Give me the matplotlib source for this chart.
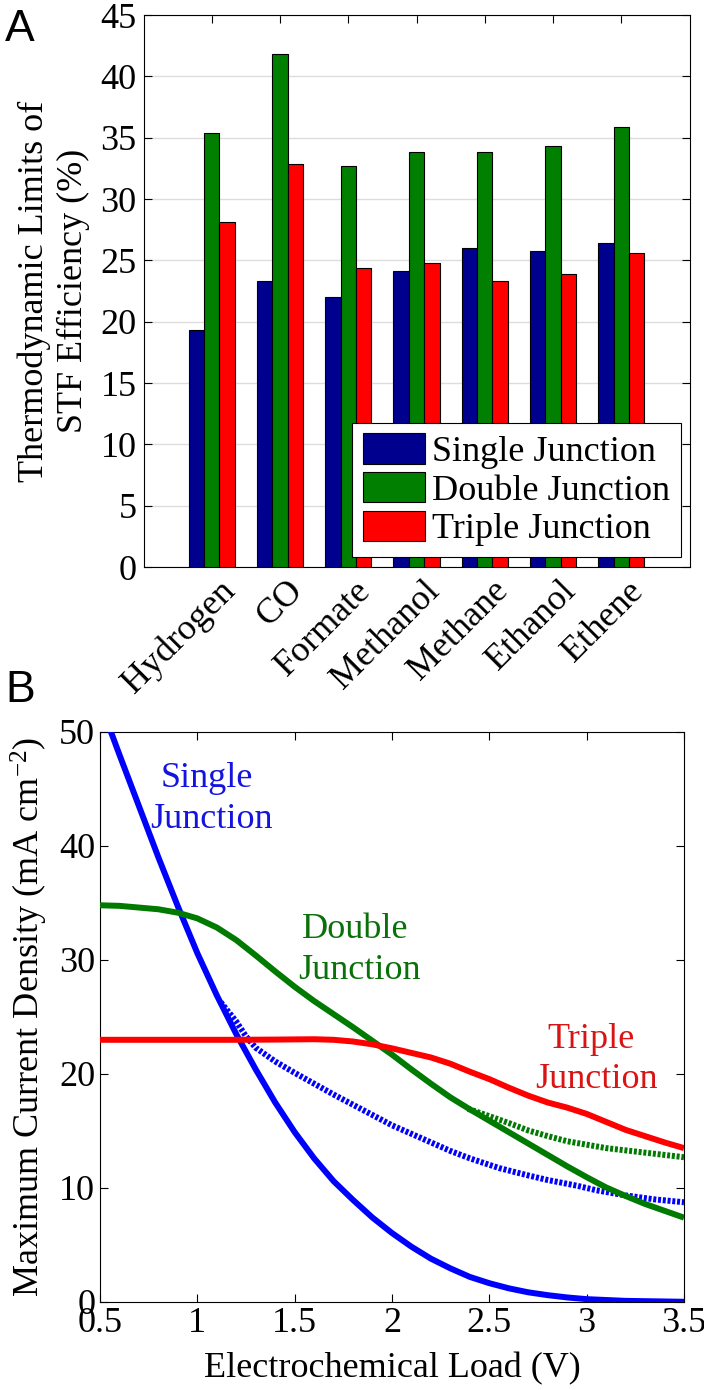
import matplotlib
matplotlib.use("Agg")
import matplotlib.pyplot as plt
import matplotlib.transforms as mtransforms
import numpy as np

plt.rcParams['font.family'] = ['Liberation Serif', 'DejaVu Serif']
plt.rcParams['mathtext.default'] = 'regular'

# ---------------- Panel A data ----------------
products = ["Hydrogen", "CO", "Formate", "Methanol", "Methane", "Ethanol", "Ethene"]
single_eff = [19.3, 23.35, 22.0, 24.15, 26.0, 25.8, 26.45]
double_eff = [35.4, 41.8, 32.7, 33.8, 33.8, 34.35, 35.9]
triple_eff = [28.1, 32.85, 24.4, 24.75, 23.3, 23.9, 25.6]
series_labels = ["Single Junction", "Double Junction", "Triple Junction"]
bar_colors = ["#00008F", "#007F00", "#FF0000"]

# ---------------- Panel B data ----------------
single_x = [0.5, 0.6, 0.7, 0.8, 0.9, 1.0, 1.1, 1.2, 1.3, 1.4, 1.5, 1.6, 1.7, 1.8, 1.9,
            2.0, 2.1, 2.2, 2.3, 2.4, 2.5, 2.6, 2.7, 2.8, 2.9, 3.0, 3.2, 3.5]
single_y = [52.6, 48.0, 43.5, 39.0, 34.7, 30.6, 26.9, 23.5, 20.4, 17.5, 14.9, 12.6, 10.6,
            8.95, 7.4, 6.05, 4.85, 3.8, 2.95, 2.2, 1.65, 1.2, 0.85, 0.6, 0.4, 0.25, 0.1, 0.02]

single_dot_x = [1.12, 1.2, 1.25, 1.3, 1.4, 1.5, 1.6, 1.7, 1.8, 1.9, 2.0, 2.1, 2.2, 2.3,
                2.4, 2.55, 2.7, 2.8, 2.95, 3.05, 3.2, 3.35, 3.5]
single_dot_y = [26.3, 24.6, 23.3, 22.3, 21.1, 20.1, 19.15, 18.2, 17.3, 16.4, 15.5, 14.75,
                14.0, 13.25, 12.6, 11.75, 11.1, 10.7, 10.2, 9.8, 9.35, 9.0, 8.75]

double_x = [0.5, 0.6, 0.7, 0.8, 0.9, 1.0, 1.1, 1.2, 1.3, 1.4, 1.5, 1.6, 1.7, 1.8, 1.9,
            2.0, 2.1, 2.2, 2.3, 2.4, 2.5, 2.6, 2.7, 2.8, 2.9, 3.0, 3.1, 3.2, 3.3, 3.4, 3.5]
double_y = [34.8, 34.75, 34.6, 34.45, 34.15, 33.65, 32.85, 31.75, 30.4, 29.0, 27.65, 26.4,
            25.25, 24.1, 22.9, 21.7, 20.4, 19.15, 17.95, 16.9, 15.9, 14.9, 13.9, 12.9, 11.9,
            10.95, 10.05, 9.3, 8.6, 8.0, 7.4]

double_dot_x = [2.39, 2.5, 2.6, 2.7, 2.8, 2.9, 3.0, 3.1, 3.2, 3.3, 3.4, 3.5]
double_dot_y = [16.95, 16.3, 15.7, 15.05, 14.55, 14.1, 13.8, 13.5, 13.3, 13.1, 12.9, 12.7]

triple_x = [0.5, 0.8, 1.0, 1.2, 1.4, 1.6, 1.7, 1.8, 1.9, 2.0, 2.1, 2.2, 2.3, 2.4, 2.5,
            2.6, 2.7, 2.8, 2.9, 3.0, 3.1, 3.2, 3.3, 3.4, 3.5]
triple_y = [23.0, 23.0, 23.0, 23.0, 23.02, 23.05, 23.0, 22.85, 22.6, 22.25, 21.85, 21.45,
            20.9, 20.2, 19.55, 18.8, 18.1, 17.5, 17.05, 16.5, 15.8, 15.1, 14.55, 14.0, 13.5]

line_colors = ["#0000FF", "#007A00", "#FF0000"]

W, H = 704, 1390
fig = plt.figure(figsize=(W / 100, H / 100), dpi=100)

FS = 26

# ---------------- Panel A ----------------
axA = fig.add_axes([143.5 / W, 1 - 567 / H, 546 / W, 552 / H])
x = np.arange(1, len(products) + 1)
bw = 0.225
for i, (vals, lab, col) in enumerate(zip([single_eff, double_eff, triple_eff], series_labels, bar_colors)):
    axA.bar(x + (i - 1) * bw, vals, width=bw, color=col, edgecolor="black", linewidth=0.8,
            label=lab, zorder=3)
axA.set_xlim(0, 8)
axA.set_ylim(0, 45)
axA.set_yticks(np.arange(0, 46, 5))
axA.set_xticks(x)
axA.set_xticklabels(products, rotation=45, ha="right", va="center", rotation_mode="anchor")
axA.yaxis.grid(True, color="#DDDDDD", linewidth=1.0, zorder=0)
axA.set_axisbelow(True)
axA.tick_params(direction="in", top=True, right=True, labelsize=FS, length=6, width=0.8)
axA.tick_params(axis="y", pad=5)
axA.tick_params(axis="x", pad=10)
offset = mtransforms.ScaledTranslation(18 / 100, -5 / 100, fig.dpi_scale_trans)
for lbl in axA.get_xticklabels():
    lbl.set_transform(lbl.get_transform() + offset)
for s in axA.spines.values():
    s.set_linewidth(0.8)
axA.set_ylabel("Thermodynamic Limits of\nSTF Efficiency (%)", fontsize=FS, linespacing=1.22)
axA.yaxis.set_label_coords(-0.098, 0.5)
leg = axA.legend(loc="lower right", bbox_to_anchor=(0.9845, 0.018), borderaxespad=0,
                 fontsize=FS, frameon=True, fancybox=False,
                 edgecolor="black", handlelength=1.72, handleheight=0.92,
                 labelspacing=0.08, handletextpad=0.2, borderpad=0.3)
leg.get_frame().set_linewidth(0.8)
leg.get_frame().set_alpha(1)
fig.text(5 / W, 1 - 41 / H, "A", fontsize=32, family="Liberation Sans")

# ---------------- Panel B ----------------
axB = fig.add_axes([100 / W, 1 - 1302 / H, 584 / W, 570 / H])
lw = 4.3
dots = (0, (0.5, 0.3))
axB.plot(single_x, single_y, color=line_colors[0], lw=lw, solid_capstyle="butt",
         solid_joinstyle="round", zorder=3)
axB.plot(single_dot_x, single_dot_y, color=line_colors[0], lw=lw, linestyle=dots,
         dash_capstyle="butt", zorder=2)
axB.plot(double_x, double_y, color=line_colors[1], lw=lw, solid_capstyle="butt",
         solid_joinstyle="round", zorder=3)
axB.plot(double_dot_x, double_dot_y, color=line_colors[1], lw=lw, linestyle=dots,
         dash_capstyle="butt", zorder=2)
axB.plot(triple_x, triple_y, color=line_colors[2], lw=lw, solid_capstyle="butt",
         solid_joinstyle="round", zorder=3)
axB.set_xlim(0.5, 3.5)
axB.set_ylim(0, 50)
axB.set_xticks([0.5, 1, 1.5, 2, 2.5, 3, 3.5])
axB.set_xticklabels(["0.5", "1", "1.5", "2", "2.5", "3", "3.5"])
axB.set_yticks([0, 10, 20, 30, 40, 50])
axB.tick_params(direction="in", top=True, right=True, labelsize=FS, length=6, width=0.8)
for s in axB.spines.values():
    s.set_linewidth(0.8)
axB.set_xlabel("Electrochemical Load (V)", fontsize=FS, labelpad=9)
axB.set_ylabel("Maximum Current Density (mA cm$^{-2}$)", fontsize=FS)
axB.yaxis.set_label_coords(-0.086, 0.5)

ann = [
    ("Single", 1.048, 45.2, "#1414E0"),
    ("Junction", 1.074, 41.6, "#1414E0"),
    ("Double", 1.81, 31.9, "#0A700A"),
    ("Junction", 1.835, 28.3, "#0A700A"),
    ("Triple", 3.021, 22.25, "#D81414"),
    ("Junction", 3.051, 18.75, "#D81414"),
]
for txt, tx, ty, col in ann:
    axB.text(tx, ty, txt, color=col, fontsize=FS, ha="center", va="baseline")
fig.text(5 / W, 1 - 702 / H, "B", fontsize=32, family="Liberation Sans")

fig.savefig("out.png", dpi=100)
